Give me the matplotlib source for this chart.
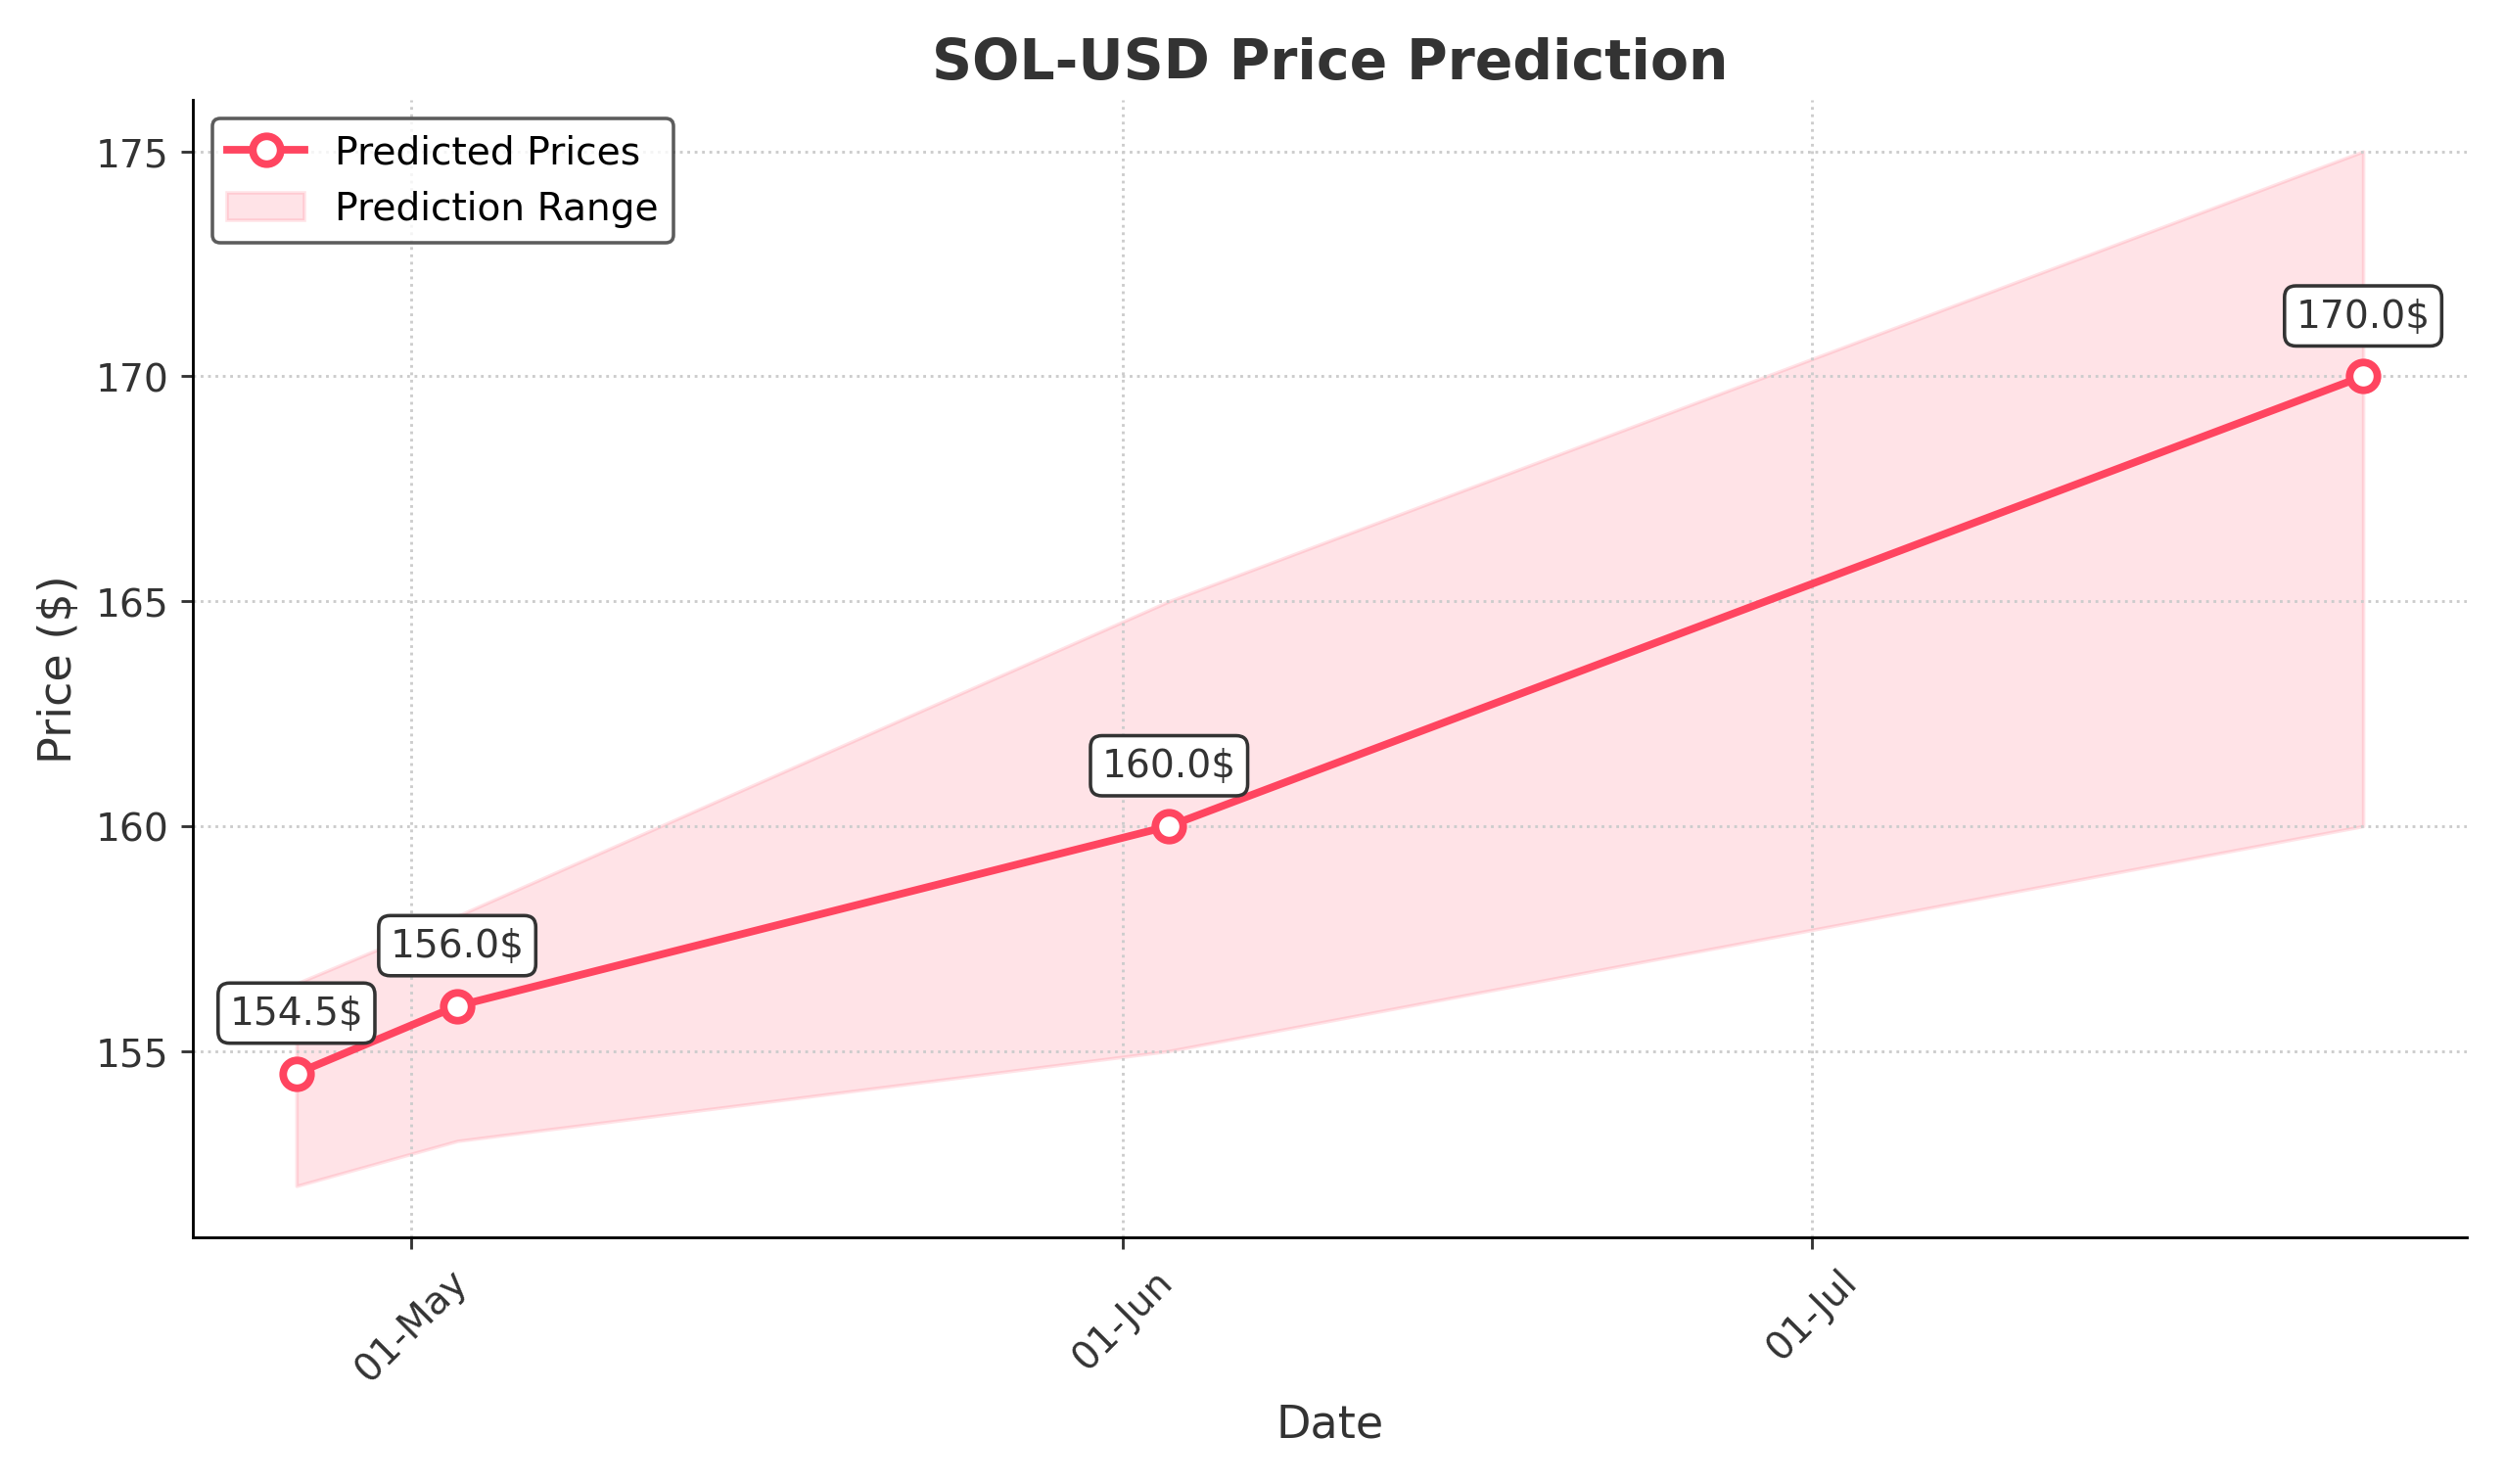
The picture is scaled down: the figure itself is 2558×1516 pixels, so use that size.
import matplotlib
matplotlib.use("Agg")
import matplotlib.pyplot as plt
import matplotlib.dates as mdates
import pandas as pd

dates = pd.to_datetime(["2025-04-26", "2025-05-03", "2025-06-03", "2025-07-25"])
predicted = [154.5, 156.0, 160.0, 170.0]
lower = [152.0, 153.0, 155.0, 160.0]
upper = [156.5, 158.0, 165.0, 175.0]

color = "#ff4560"
fig, ax = plt.subplots(figsize=(10, 5.93), dpi=255.8)
ax.fill_between(dates, lower, upper, color=color, alpha=0.15, label="Prediction Range")
ax.plot(dates, predicted, color=color, lw=2.2, marker="o", markersize=8,
        markerfacecolor="white", markeredgewidth=2.2, label="Predicted Prices")
for d, v in zip(dates, predicted):
    ax.annotate(f"{v}$", (d, v), xytext=(0, 12), textcoords="offset points",
                ha="center", va="bottom", fontsize=11, color="#333333",
                bbox=dict(boxstyle="round,pad=0.3", fc="white", ec="#333333", lw=1))

ax.xaxis.set_major_locator(mdates.MonthLocator())
ax.xaxis.set_major_formatter(mdates.DateFormatter("%d-%b"))
plt.setp(ax.get_xticklabels(), rotation=45)
ax.set_yticks([155, 160, 165, 170, 175])
ax.tick_params(labelsize=11, colors="#333333")
ax.set_xlabel("Date", fontsize=13, color="#333333")
ax.set_ylabel("Price ($)", fontsize=13, color="#333333")
ax.set_title("SOL-USD Price Prediction", fontsize=16, fontweight="bold", color="#333333")
ax.grid(True, ls=":", color="#cccccc")
for s in ["top", "right"]:
    ax.spines[s].set_visible(False)
handles, labels = ax.get_legend_handles_labels()
ax.legend(handles[::-1], labels[::-1], loc="upper left", fontsize=11, edgecolor="#333333")
fig.tight_layout()
fig.savefig("out.png")
